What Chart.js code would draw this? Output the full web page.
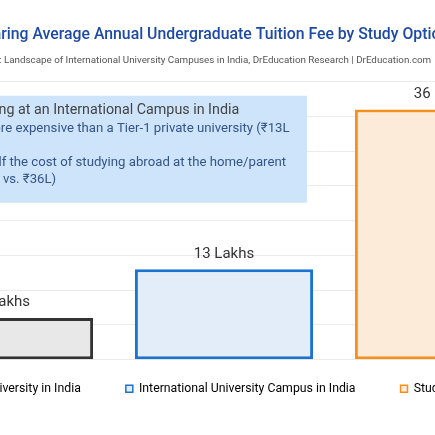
<!DOCTYPE html>
<html>
<head>
<meta charset="utf-8">
<script src="https://cdn.jsdelivr.net/npm/chart.js@4.4.1/dist/chart.umd.min.js"></script>
<style>
  html, body { margin: 0; padding: 0; background: #fff; overflow: hidden; }
  body { width: 435px; height: 435px; position: relative; }
  /* the chart is wider than the window; the window shows its middle */
  #wrap { position: absolute; left: -154px; top: 0; width: 708px; height: 435px; }
</style>
</head>
<body>
<div id="wrap"><canvas id="feeChart"></canvas></div>
<script>
// Data
const categories = ['Tier-1 Private University in India', 'International University Campus in India', 'Studying Abroad'];
const tuitionLakhs = [6, 13, 36];
const yMax = 40;
const yStep = 5;

const insightTitle = 'Fee of Studying at an International Campus in India';
const insightLines = [
	'\u2022 Nearly 2x more expensive than a Tier-1 private university (\u20B913L',
	'   vs. \u20B96L)',
	'\u2022 Less than half the cost of studying abroad at the home/parent',
	'campus (\u20B913L vs. \u20B936L)'
];

// Styles
const fillColors = ['#e8e8e8', '#e3edfa', '#fdebd9'];
const borderColors = ['#333333', '#1a73d0', '#f5901f'];
const fontFamily = 'Roboto, "Noto Sans", sans-serif';
const legendFontSize = 12.3;

// legend items sit a little closer to the bars than Chart.js would put them
const legendNudge = {
	id: 'legendNudge',
	afterLayout(chart) {
		const lg = chart.legend;
		const wanted = chart.chartArea.bottom + 29 - lg.options.labels.padding - legendFontSize / 2;
		const dy = lg.top - wanted;
		lg.top -= dy;
		lg.bottom -= dy;
	}
};

// Blue insight box behind the bars
const insightBox = {
	id: 'insightBox',
	beforeDatasetsDraw(chart) {
		const { ctx, chartArea: a } = chart;
		const x = a.left + 8, y = a.top + 14, w = 405, h = 107;
		ctx.save();
		ctx.fillStyle = '#cde4fa';
		ctx.fillRect(x, y, w, h);
		ctx.textAlign = 'left';
		ctx.textBaseline = 'middle';
		const tx = x + 14;
		ctx.font = '14.3px ' + fontFamily;
		ctx.fillStyle = '#444444';
		ctx.fillText(insightTitle, tx, y + 15);
		ctx.font = '13.2px ' + fontFamily;
		ctx.fillStyle = '#34548a';
		insightLines.forEach((line, i) => ctx.fillText(line, tx, y + 33 + i * 17));
		ctx.restore();
	}
};

// Value labels above the bars
const barLabels = {
	id: 'barLabels',
	afterDatasetsDraw(chart) {
		const { ctx } = chart;
		const meta = chart.getDatasetMeta(0);
		ctx.save();
		ctx.font = '15px ' + fontFamily;
		ctx.fillStyle = '#333333';
		ctx.textAlign = 'center';
		ctx.textBaseline = 'bottom';
		meta.data.forEach((bar, i) => ctx.fillText(tuitionLakhs[i] + ' Lakhs', bar.x, bar.y - 8));
		ctx.restore();
	}
};

const ctxBar = document.getElementById('feeChart').getContext('2d');
const feeChart = new Chart(ctxBar, {
	type: 'bar',
	data: {
		labels: categories,
		datasets: [{
			label: 'Average Annual Tuition Fee (\u20B9 Lakhs)',
			data: tuitionLakhs,
			backgroundColor: fillColors,
			borderColor: borderColors,
			borderWidth: 3,
			borderSkipped: false,
			barPercentage: 0.9,
			categoryPercentage: 0.9
		}]
	},
	options: {
		responsive: true,
		maintainAspectRatio: false,
		animation: false,
		layout: { padding: { bottom: 8 } },
		plugins: {
			title: {
				display: true,
				text: 'Comparing Average Annual Undergraduate Tuition Fee by Study Option',
				color: '#1d4aa6',
				font: { family: fontFamily, size: 15.8, weight: '500' },
				padding: { top: 26, bottom: 10 }
			},
			subtitle: {
				display: true,
				text: 'Source: Landscape of International University Campuses in India, DrEducation Research | DrEducation.com',
				color: '#555555',
				font: { family: fontFamily, size: 9.8 },
				padding: { top: 0, bottom: 15 }
			},
			legend: {
				position: 'bottom',
				labels: {
					boxWidth: 7,
					boxHeight: 7,
					padding: 45,
					color: '#555555',
					font: { family: fontFamily, size: legendFontSize },
					generateLabels: () => categories.map((c, i) => ({
						text: c,
						fillStyle: fillColors[i],
						strokeStyle: borderColors[i],
						lineWidth: 1.5,
						hidden: false,
						index: i,
						datasetIndex: 0
					}))
				}
			},
			tooltip: { enabled: false }
		},
		scales: {
			x: { display: false },
			y: {
				min: 0,
				max: yMax,
				ticks: { stepSize: yStep, color: '#666666', font: { family: fontFamily, size: 10 } },
				grid: { color: '#ebebeb' },
				border: { display: false },
				afterFit: (scale) => { scale.width = 48; }
			}
		}
	},
	plugins: [legendNudge, insightBox, barLabels]
});
</script>
</body>
</html>
